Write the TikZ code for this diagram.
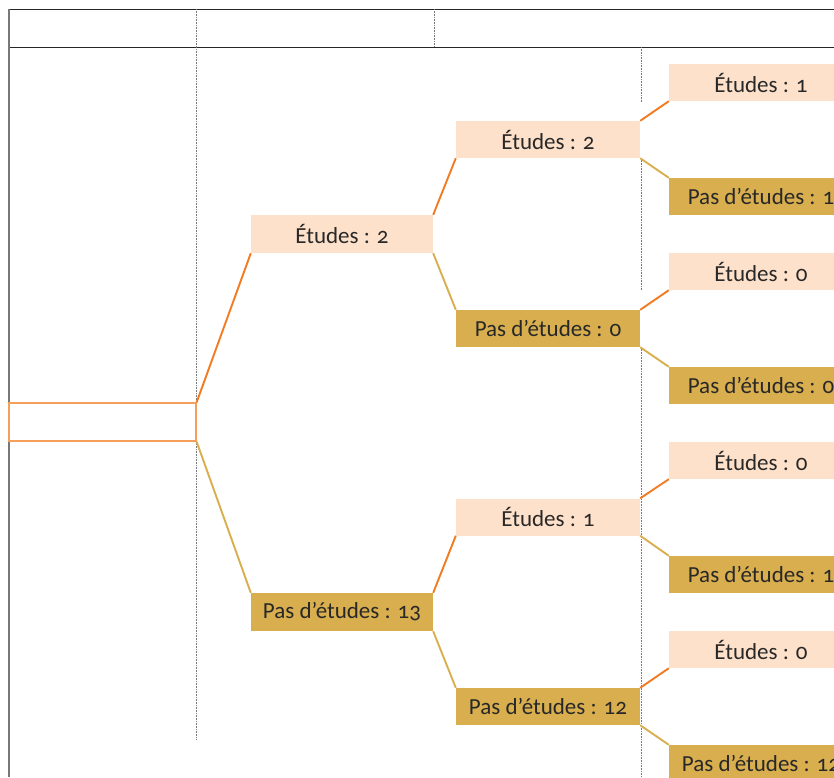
\documentclass[tikz,border=0pt]{standalone}
\usepackage{fontspec}
\setmainfont{Carlito}[Numbers=OldStyle]
\usepackage{xcolor}
\usepackage{tikz}
\usetikzlibrary{positioning, calc}
\definecolor{trOrange}{RGB}{242, 122, 32}
\definecolor{trGold}{RGB}{216, 174, 79}
\definecolor{trPeach}{RGB}{254, 225, 202}
\definecolor{trRoot}{RGB}{245, 160, 90}
\definecolor{trGray}{RGB}{120, 120, 120}
\definecolor{trText}{RGB}{40, 40, 40}
\tikzset{
    base/.style={
        font=\fontsize{23}{25}\selectfont,
        text=trText,
        align=center,
        inner sep=0pt
    },
    etudes/.style={
        base,
        rectangle,
        fill=trPeach,
        minimum height=37,
        minimum width=184
    },
    pas/.style={
        base,
        rectangle,
        fill=trGold,
        minimum height=37,
        minimum width=184
    },
    rootbox/.style={
        rectangle,
        draw=trRoot,
        line width=1.2pt,
        minimum height=38,
        minimum width=187,
        inner sep=0pt
    },
    yes/.style={
        line width=1.9pt,
        color=trOrange
    },
    no/.style={
        line width=1.9pt,
        color=trGold
    },
    grid/.style={
        densely dotted,
        line width=0.6pt,
        color=trGray
    },
    frame/.style={
        line width=0.8pt,
        color=black!85
    }
}
\begin{document}
\begin{tikzpicture}[x=1pt, y=-1pt]
  \useasboundingbox (0,0) rectangle (834,777);
  \clip (0,0) rectangle (834,777);

  % Header
  \draw[frame] (9,9) -- (834,9);
  \draw[frame] (9,47) -- (834,47);
  \draw[line width=1.5pt, trGray] (9,9) -- (9,777);

  % Column separators
  \draw[grid] (196,9) -- (196,740);
  \draw[grid] (434,9) -- (434,47);
  \draw[grid] (641,47) -- (641,102);
  \draw[grid] (641,158) -- (641,290);
  \draw[grid] (641,347) -- (641,777);

  % Root
  \node[rootbox] (r) at (102.5,422) {};

  % Level 1
  \node[etudes, minimum width=182, minimum height=38] (e) at (342,234) {Études : 2};
  \node[pas, minimum width=182, minimum height=38] (p) at (342,612) {Pas d’études : 13};

  % Level 2
  \node[etudes] (ee) at (548,139.5) {Études : 2};
  \node[pas] (ep) at (548,328.5) {Pas d’études : 0};
  \node[etudes] (pe) at (548,517) {Études : 1};
  \node[pas] (pp) at (548,706.5) {Pas d’études : 12};

  % Level 3
  \node[etudes] (eee) at (761,82.5) {Études : 1};
  \node[pas] (eep) at (761,196.5) {Pas d’études : 1};
  \node[etudes] (epe) at (761,271.5) {Études : 0};
  \node[pas] (epp) at (761,385.5) {Pas d’études : 0};
  \node[etudes] (pee) at (761,460.5) {Études : 0};
  \node[pas] (pep) at (761,574.5) {Pas d’études : 1};
  \node[etudes] (ppe) at (761,649.5) {Études : 0};
  \node[pas] (ppp) at (761,763.5) {Pas d’études : 12};

  % Branches
  \draw[yes] (r.north east) -- (e.south west);
  \draw[no] (r.south east) -- (p.north west);
  \foreach \a/\b/\c in {e/ee/ep, p/pe/pp, ee/eee/eep, ep/epe/epp, pe/pee/pep, pp/ppe/ppp} {
    \draw[yes] (\a.north east) -- (\b.south west);
    \draw[no] (\a.south east) -- (\c.north west);
  }
\end{tikzpicture}
\end{document}
